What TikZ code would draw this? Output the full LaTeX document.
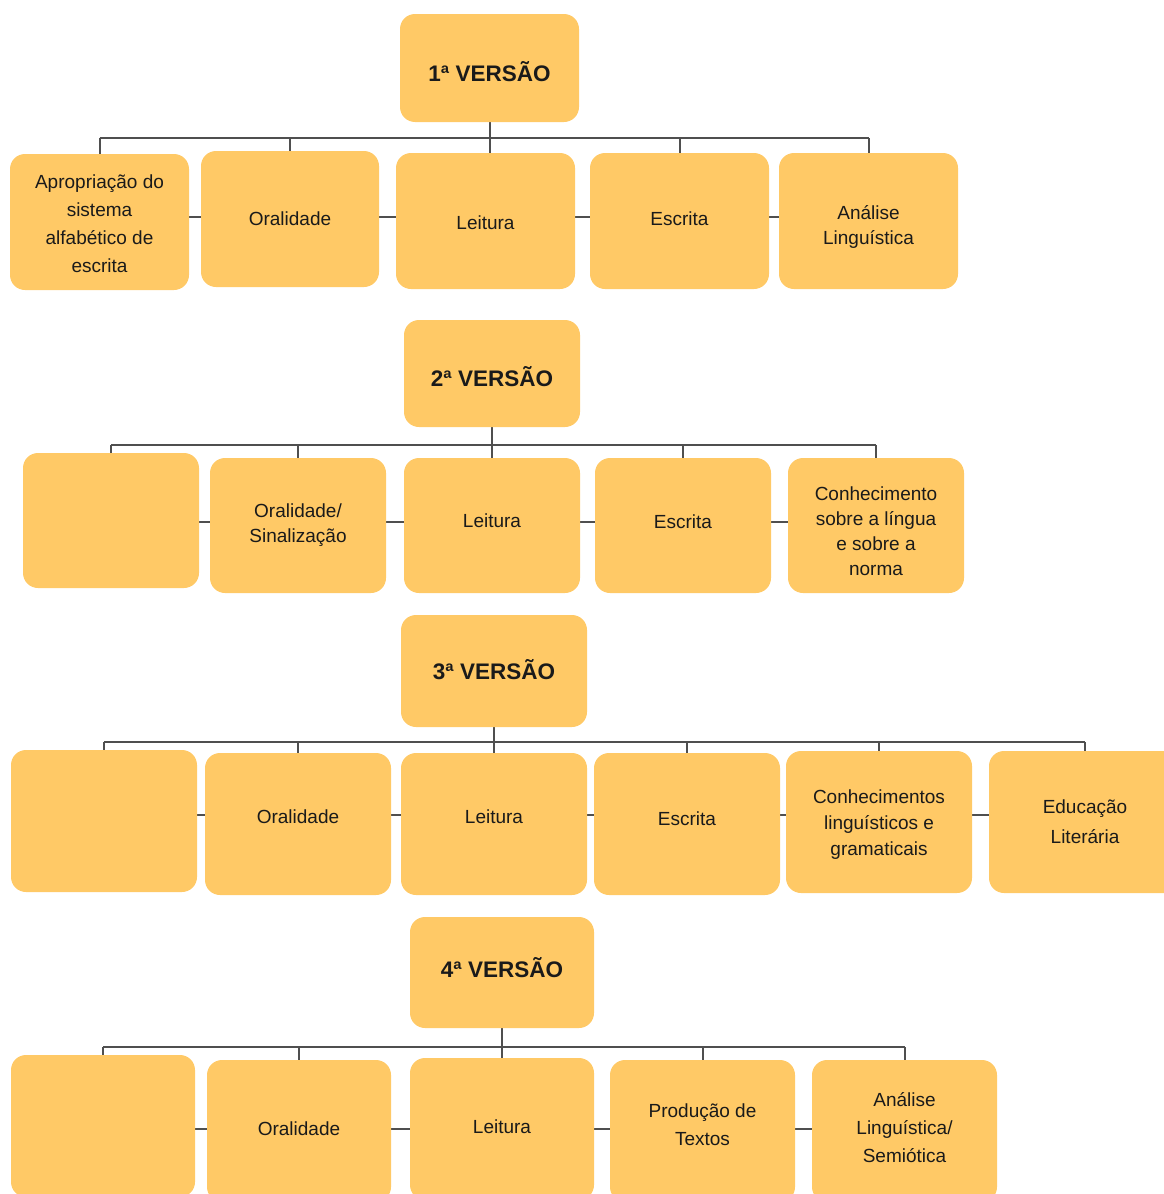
\documentclass[tikz,border=0pt]{standalone}
\usepackage{fontspec}
\setmainfont{Liberation Sans}
\usetikzlibrary{backgrounds}
\definecolor{boxfill}{HTML}{FFC966}
\definecolor{linkgray}{HTML}{4F4F4F}
\definecolor{ink}{HTML}{1A1A1A}
% move a label up by #1 without changing its measured size
\newcommand{\shiftby}[2]{\raisebox{#1}[\height][\depth]{\begin{tabular}{@{}c@{}}#2\end{tabular}}}
\newcommand{\shiftone}[2]{\raisebox{#1}[\height][\depth]{#2}}
\begin{document}
\begin{tikzpicture}[x=1pt,y=-1pt,
  box/.style={draw=none,fill=boxfill,rounded corners=15pt,inner sep=0pt,
    align=center,text=ink,font=\fontsize{19}{27}\selectfont},
  titlebox/.style={box,font=\fontsize{22.5}{26}\selectfont\bfseries},
  link/.style={draw=linkgray,line width=2pt}]
\useasboundingbox (0,0) rectangle (1163,1194);

% ---- first version ----
\node[titlebox,minimum width=179pt,minimum height=108pt] (t1) at (489.5,68) {\shiftone{-4pt}{1ª VERSÃO}};
\node[box,minimum width=179pt,minimum height=136pt,font=\fontsize{19}{28}\selectfont] (a1) at (99.5,222) {\shiftby{-3pt}{Apropriação do\\sistema\\alfabético de\\escrita}};
\node[box,minimum width=178pt,minimum height=136pt] (b1) at (290,219) {Oralidade};
\node[box,minimum width=179pt,minimum height=136pt] (c1) at (485.5,221) {\shiftone{-2pt}{Leitura}};
\node[box,minimum width=179pt,minimum height=136pt] (d1) at (679.5,221) {\shiftone{2pt}{Escrita}};
\node[box,minimum width=179pt,minimum height=136pt,font=\fontsize{19}{25}\selectfont] (e1) at (868.5,221) {\shiftby{-5.5pt}{Análise\\Linguística}};
\coordinate (bus1) at (0,138);
\coordinate (mid1) at (0,217);

% ---- second version ----
\node[titlebox,minimum width=176pt,minimum height=107pt] (t2) at (492,373.5) {\shiftone{-3pt}{2ª VERSÃO}};
\node[box,minimum width=176pt,minimum height=135pt] (a2) at (111,520.5) {};
\node[box,minimum width=176pt,minimum height=135pt,font=\fontsize{19}{25}\selectfont] (b2) at (298,525.5) {Oralidade/\\Sinalização};
\node[box,minimum width=176pt,minimum height=135pt] (c2) at (492,525.5) {\shiftone{5pt}{Leitura}};
\node[box,minimum width=176pt,minimum height=135pt] (d2) at (683,525.5) {\shiftone{4pt}{Escrita}};
\node[box,minimum width=176pt,minimum height=135pt,font=\fontsize{19}{25}\selectfont] (e2) at (876,525.5) {\shiftby{-7.5pt}{Conhecimento\\sobre a língua\\e sobre a\\norma}};
\coordinate (bus2) at (0,445);
\coordinate (mid2) at (0,522);

% ---- third version ----
\node[titlebox,minimum width=186pt,minimum height=112pt] (t3) at (494,671) {\shiftone{1pt}{3ª VERSÃO}};
\node[box,minimum width=186pt,minimum height=142pt] (a3) at (104,821) {};
\node[box,minimum width=186pt,minimum height=142pt] (b3) at (298,824) {\shiftone{7pt}{Oralidade}};
\node[box,minimum width=186pt,minimum height=142pt] (c3) at (494,824) {\shiftone{7pt}{Leitura}};
\node[box,minimum width=186pt,minimum height=142pt] (d3) at (687,824) {\shiftone{5pt}{Escrita}};
\node[box,minimum width=186pt,minimum height=142pt,font=\fontsize{19}{26}\selectfont] (e3) at (879,822) {\shiftby{-2pt}{Conhecimentos\\linguísticos e\\gramaticais}};
\node[box,minimum width=192pt,minimum height=142pt,font=\fontsize{19}{30}\selectfont] (f3) at (1085,822) {Educação\\Literária};
\coordinate (bus3) at (0,742);
\coordinate (mid3) at (0,815);

% ---- fourth version ----
\node[titlebox,minimum width=184pt,minimum height=111pt] (t4) at (502,972.5) {\shiftone{5pt}{4ª VERSÃO}};
\node[box,minimum width=184pt,minimum height=142pt] (a4) at (103,1126) {};
\node[box,minimum width=184pt,minimum height=142pt] (b4) at (299,1131) {\shiftone{2pt}{Oralidade}};
\node[box,minimum width=184pt,minimum height=142pt] (c4) at (502,1129) {\shiftone{2pt}{Leitura}};
\node[box,minimum width=185pt,minimum height=142pt,font=\fontsize{19}{28}\selectfont] (d4) at (702.5,1131) {\shiftby{5pt}{Produção de\\Textos}};
\node[box,minimum width=185pt,minimum height=142pt,font=\fontsize{19}{28}\selectfont] (e4) at (904.5,1131) {\shiftby{2pt}{Análise\\Linguística/\\Semiótica}};
\coordinate (bus4) at (0,1047);
\coordinate (mid4) at (0,1129);

% ---- connectors, behind the boxes ----
\begin{scope}[on background layer]
  % first version
  \draw[link] (t1.south) -- (t1.south |- c1.north);
  \draw[link] (a1.north |- bus1) -- (e1.north |- bus1);
  \foreach \n in {a1,b1,d1,e1} \draw[link] (\n.north) -- (\n.north |- bus1);
  \draw[link] (a1 |- mid1) -- (e1 |- mid1);
  % second version
  \draw[link] (t2.south) -- (t2.south |- c2.north);
  \draw[link] (a2.north |- bus2) -- (e2.north |- bus2);
  \foreach \n in {a2,b2,d2,e2} \draw[link] (\n.north) -- (\n.north |- bus2);
  \draw[link] (a2 |- mid2) -- (e2 |- mid2);
  % third version
  \draw[link] (t3.south) -- (t3.south |- c3.north);
  \draw[link] (a3.north |- bus3) -- (f3.north |- bus3);
  \foreach \n in {a3,b3,d3,e3,f3} \draw[link] (\n.north) -- (\n.north |- bus3);
  \draw[link] (a3 |- mid3) -- (f3 |- mid3);
  % fourth version
  \draw[link] (t4.south) -- (t4.south |- c4.north);
  \draw[link] (a4.north |- bus4) -- (e4.north |- bus4);
  \foreach \n in {a4,b4,d4,e4} \draw[link] (\n.north) -- (\n.north |- bus4);
  \draw[link] (a4 |- mid4) -- (e4 |- mid4);
\end{scope}
\end{tikzpicture}
\end{document}
